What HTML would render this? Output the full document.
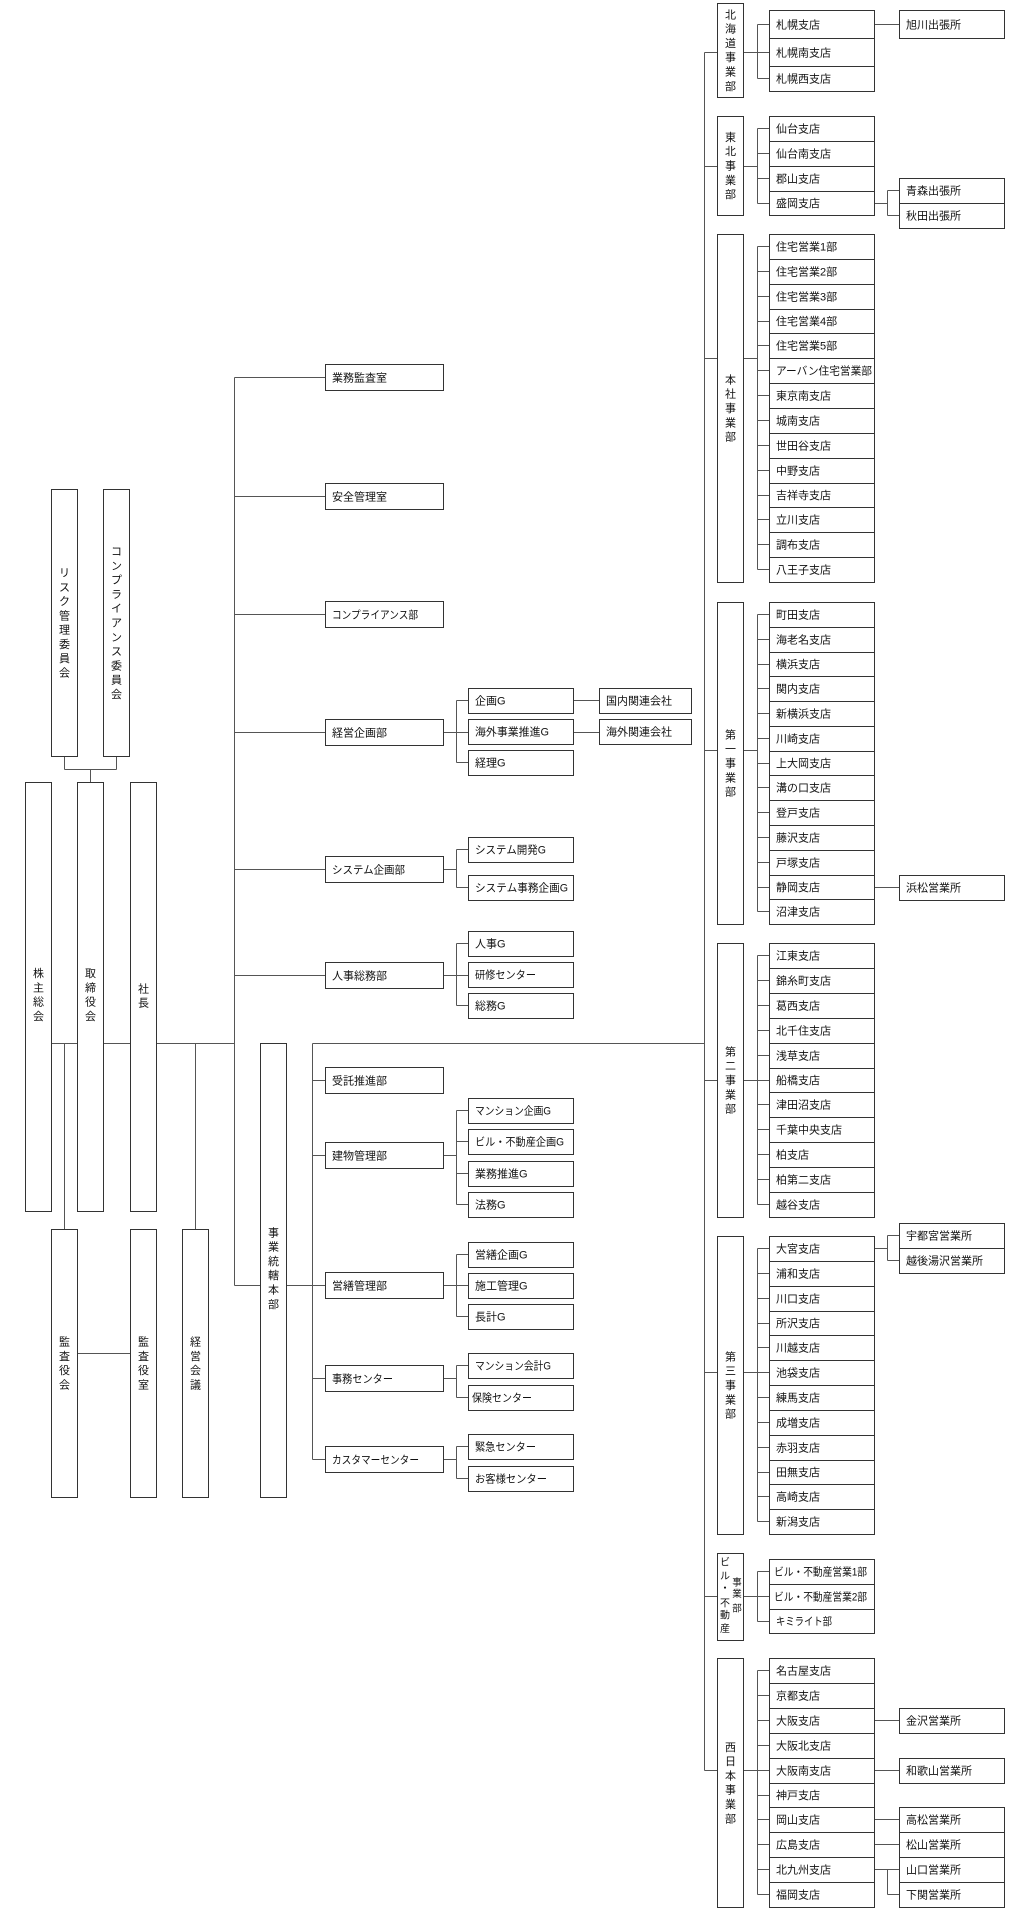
<!DOCTYPE html>
<html><head><meta charset="utf-8">
<style>
html,body{margin:0;padding:0;background:#fff;}
svg{display:block;}
text{font-family:"Liberation Sans","Noto Sans CJK JP",sans-serif;font-size:11px;fill:#111;}
.v{text-anchor:middle;}
.s{font-size:10px;}
.ss{font-size:9.5px;}
.ln line{stroke:#555;stroke-width:1;}
.bx rect{fill:#fff;stroke:#333;stroke-width:1;}
</style></head>
<body>
<svg width="1023" height="1910" viewBox="0 0 1023 1910" shape-rendering="crispEdges">
<g class="ln">
<!-- top-left committees connector -->
<line x1="64.5" y1="756" x2="64.5" y2="769.5"/>
<line x1="116.5" y1="756" x2="116.5" y2="769.5"/>
<line x1="64.5" y1="769.5" x2="116.5" y2="769.5"/>
<line x1="90.5" y1="769.5" x2="90.5" y2="782"/>
<!-- main horizontal -->
<line x1="51" y1="1043.5" x2="234.5" y2="1043.5"/>
<line x1="64.5" y1="1043.5" x2="64.5" y2="1229"/>
<line x1="195.5" y1="1043.5" x2="195.5" y2="1229"/>
<line x1="78" y1="1353.5" x2="130" y2="1353.5"/>
<!-- trunk middle -->
<line x1="234.5" y1="377.5" x2="234.5" y2="1285.5"/>
<line x1="234.5" y1="377.5" x2="325" y2="377.5"/>
<line x1="234.5" y1="496.5" x2="325" y2="496.5"/>
<line x1="234.5" y1="614.5" x2="325" y2="614.5"/>
<line x1="234.5" y1="732.5" x2="325" y2="732.5"/>
<line x1="234.5" y1="869.5" x2="325" y2="869.5"/>
<line x1="234.5" y1="975.5" x2="325" y2="975.5"/>
<line x1="234.5" y1="1285.5" x2="260" y2="1285.5"/>
<line x1="286" y1="1285.5" x2="325" y2="1285.5"/>
<!-- 事業統轄本部 subtree -->
<line x1="312.5" y1="1043.5" x2="312.5" y2="1459.5"/>
<line x1="312.5" y1="1043.5" x2="704.5" y2="1043.5"/>
<line x1="312.5" y1="1080.5" x2="325" y2="1080.5"/>
<line x1="312.5" y1="1155.5" x2="325" y2="1155.5"/>
<line x1="312.5" y1="1378.5" x2="325" y2="1378.5"/>
<line x1="312.5" y1="1459.5" x2="325" y2="1459.5"/>
<!-- 経営企画部 -->
<line x1="443" y1="732.5" x2="468" y2="732.5"/>
<line x1="456.5" y1="700.5" x2="456.5" y2="762.5"/>
<line x1="456.5" y1="700.5" x2="468" y2="700.5"/>
<line x1="456.5" y1="762.5" x2="468" y2="762.5"/>
<line x1="573" y1="700.5" x2="599" y2="700.5"/>
<line x1="573" y1="732.5" x2="599" y2="732.5"/>
<!-- システム企画部 -->
<line x1="443" y1="869.5" x2="456.5" y2="869.5"/>
<line x1="456.5" y1="849.5" x2="456.5" y2="887.5"/>
<line x1="456.5" y1="849.5" x2="468" y2="849.5"/>
<line x1="456.5" y1="887.5" x2="468" y2="887.5"/>
<!-- 人事総務部 -->
<line x1="443" y1="975.5" x2="468" y2="975.5"/>
<line x1="456.5" y1="943.5" x2="456.5" y2="1005.5"/>
<line x1="456.5" y1="943.5" x2="468" y2="943.5"/>
<line x1="456.5" y1="1005.5" x2="468" y2="1005.5"/>
<!-- 建物管理部 -->
<line x1="443" y1="1155.5" x2="456.5" y2="1155.5"/>
<line x1="456.5" y1="1110.5" x2="456.5" y2="1204.5"/>
<line x1="456.5" y1="1110.5" x2="468" y2="1110.5"/>
<line x1="456.5" y1="1141.5" x2="468" y2="1141.5"/>
<line x1="456.5" y1="1173.5" x2="468" y2="1173.5"/>
<line x1="456.5" y1="1204.5" x2="468" y2="1204.5"/>
<!-- 営繕管理部 -->
<line x1="443" y1="1285.5" x2="468" y2="1285.5"/>
<line x1="456.5" y1="1254.5" x2="456.5" y2="1316.5"/>
<line x1="456.5" y1="1254.5" x2="468" y2="1254.5"/>
<line x1="456.5" y1="1316.5" x2="468" y2="1316.5"/>
<!-- 事務センター -->
<line x1="443" y1="1378.5" x2="456.5" y2="1378.5"/>
<line x1="456.5" y1="1365.5" x2="456.5" y2="1397.5"/>
<line x1="456.5" y1="1365.5" x2="468" y2="1365.5"/>
<line x1="456.5" y1="1397.5" x2="468" y2="1397.5"/>
<!-- カスタマーセンター -->
<line x1="443" y1="1459.5" x2="456.5" y2="1459.5"/>
<line x1="456.5" y1="1446.5" x2="456.5" y2="1478.5"/>
<line x1="456.5" y1="1446.5" x2="468" y2="1446.5"/>
<line x1="456.5" y1="1478.5" x2="468" y2="1478.5"/>

<!-- right trunk -->
<line x1="704.5" y1="52.5" x2="704.5" y2="1770.5"/>
<line x1="704.5" y1="52.5" x2="717" y2="52.5"/>
<line x1="704.5" y1="166.5" x2="717" y2="166.5"/>
<line x1="704.5" y1="358.5" x2="717" y2="358.5"/>
<line x1="704.5" y1="750.5" x2="717" y2="750.5"/>
<line x1="704.5" y1="1080.5" x2="717" y2="1080.5"/>
<line x1="704.5" y1="1372.5" x2="717" y2="1372.5"/>
<line x1="704.5" y1="1596.5" x2="717" y2="1596.5"/>
<line x1="704.5" y1="1770.5" x2="717" y2="1770.5"/>

<!-- 北海道 -->
<line x1="743" y1="52.5" x2="769" y2="52.5"/>
<line x1="757.5" y1="24.5" x2="757.5" y2="78.5"/>
<line x1="757.5" y1="24.5" x2="769" y2="24.5"/>
<line x1="757.5" y1="78.5" x2="769" y2="78.5"/>
<line x1="874" y1="24.5" x2="899" y2="24.5"/>
<!-- 東北 -->
<line x1="743" y1="166.5" x2="757.5" y2="166.5"/>
<line x1="757.5" y1="128.5" x2="757.5" y2="203.5"/>
<line x1="757.5" y1="128.5" x2="769" y2="128.5"/>
<line x1="757.5" y1="153.5" x2="769" y2="153.5"/>
<line x1="757.5" y1="178.5" x2="769" y2="178.5"/>
<line x1="757.5" y1="203.5" x2="769" y2="203.5"/>
<line x1="874" y1="203.5" x2="887.5" y2="203.5"/>
<line x1="887.5" y1="190.5" x2="887.5" y2="215.5"/>
<line x1="887.5" y1="190.5" x2="899" y2="190.5"/>
<line x1="887.5" y1="215.5" x2="899" y2="215.5"/>
<!-- 本社 -->
<line x1="743" y1="358.5" x2="757.5" y2="358.5"/>
<line x1="757.5" y1="246.5" x2="757.5" y2="569.5"/>
<line x1="757.5" y1="246.5" x2="769" y2="246.5"/>
<line x1="757.5" y1="271.5" x2="769" y2="271.5"/>
<line x1="757.5" y1="296.5" x2="769" y2="296.5"/>
<line x1="757.5" y1="321.5" x2="769" y2="321.5"/>
<line x1="757.5" y1="345.5" x2="769" y2="345.5"/>
<line x1="757.5" y1="370.5" x2="769" y2="370.5"/>
<line x1="757.5" y1="395.5" x2="769" y2="395.5"/>
<line x1="757.5" y1="420.5" x2="769" y2="420.5"/>
<line x1="757.5" y1="445.5" x2="769" y2="445.5"/>
<line x1="757.5" y1="470.5" x2="769" y2="470.5"/>
<line x1="757.5" y1="495.5" x2="769" y2="495.5"/>
<line x1="757.5" y1="519.5" x2="769" y2="519.5"/>
<line x1="757.5" y1="544.5" x2="769" y2="544.5"/>
<line x1="757.5" y1="569.5" x2="769" y2="569.5"/>
<!-- 第一 -->
<line x1="743" y1="750.5" x2="757.5" y2="750.5"/>
<line x1="757.5" y1="614.5" x2="757.5" y2="911.5"/>
<line x1="757.5" y1="614.5" x2="769" y2="614.5"/>
<line x1="757.5" y1="639.5" x2="769" y2="639.5"/>
<line x1="757.5" y1="664.5" x2="769" y2="664.5"/>
<line x1="757.5" y1="688.5" x2="769" y2="688.5"/>
<line x1="757.5" y1="713.5" x2="769" y2="713.5"/>
<line x1="757.5" y1="738.5" x2="769" y2="738.5"/>
<line x1="757.5" y1="763.5" x2="769" y2="763.5"/>
<line x1="757.5" y1="787.5" x2="769" y2="787.5"/>
<line x1="757.5" y1="812.5" x2="769" y2="812.5"/>
<line x1="757.5" y1="837.5" x2="769" y2="837.5"/>
<line x1="757.5" y1="862.5" x2="769" y2="862.5"/>
<line x1="757.5" y1="887.5" x2="769" y2="887.5"/>
<line x1="757.5" y1="911.5" x2="769" y2="911.5"/>
<line x1="874" y1="887.5" x2="899" y2="887.5"/>
<!-- 第二 -->
<line x1="743" y1="1080.5" x2="757.5" y2="1080.5"/>
<line x1="757.5" y1="955.5" x2="757.5" y2="1204.5"/>
<line x1="757.5" y1="955.5" x2="769" y2="955.5"/>
<line x1="757.5" y1="980.5" x2="769" y2="980.5"/>
<line x1="757.5" y1="1005.5" x2="769" y2="1005.5"/>
<line x1="757.5" y1="1030.5" x2="769" y2="1030.5"/>
<line x1="757.5" y1="1055.5" x2="769" y2="1055.5"/>
<line x1="757.5" y1="1080.5" x2="769" y2="1080.5"/>
<line x1="757.5" y1="1104.5" x2="769" y2="1104.5"/>
<line x1="757.5" y1="1129.5" x2="769" y2="1129.5"/>
<line x1="757.5" y1="1154.5" x2="769" y2="1154.5"/>
<line x1="757.5" y1="1179.5" x2="769" y2="1179.5"/>
<line x1="757.5" y1="1204.5" x2="769" y2="1204.5"/>
<!-- 第三 -->
<line x1="743" y1="1372.5" x2="757.5" y2="1372.5"/>
<line x1="757.5" y1="1248.5" x2="757.5" y2="1521.5"/>
<line x1="757.5" y1="1248.5" x2="769" y2="1248.5"/>
<line x1="757.5" y1="1273.5" x2="769" y2="1273.5"/>
<line x1="757.5" y1="1298.5" x2="769" y2="1298.5"/>
<line x1="757.5" y1="1323.5" x2="769" y2="1323.5"/>
<line x1="757.5" y1="1347.5" x2="769" y2="1347.5"/>
<line x1="757.5" y1="1372.5" x2="769" y2="1372.5"/>
<line x1="757.5" y1="1397.5" x2="769" y2="1397.5"/>
<line x1="757.5" y1="1422.5" x2="769" y2="1422.5"/>
<line x1="757.5" y1="1447.5" x2="769" y2="1447.5"/>
<line x1="757.5" y1="1472.5" x2="769" y2="1472.5"/>
<line x1="757.5" y1="1496.5" x2="769" y2="1496.5"/>
<line x1="757.5" y1="1521.5" x2="769" y2="1521.5"/>
<line x1="874" y1="1248.5" x2="887.5" y2="1248.5"/>
<line x1="887.5" y1="1235.5" x2="887.5" y2="1260.5"/>
<line x1="887.5" y1="1235.5" x2="899" y2="1235.5"/>
<line x1="887.5" y1="1260.5" x2="899" y2="1260.5"/>
<!-- ビル・不動産 -->
<line x1="743" y1="1596.5" x2="757.5" y2="1596.5"/>
<line x1="757.5" y1="1571.5" x2="757.5" y2="1621.5"/>
<line x1="757.5" y1="1571.5" x2="769" y2="1571.5"/>
<line x1="757.5" y1="1596.5" x2="769" y2="1596.5"/>
<line x1="757.5" y1="1621.5" x2="769" y2="1621.5"/>
<!-- 西日本 -->
<line x1="743" y1="1770.5" x2="757.5" y2="1770.5"/>
<line x1="757.5" y1="1670.5" x2="757.5" y2="1894.5"/>
<line x1="757.5" y1="1670.5" x2="769" y2="1670.5"/>
<line x1="757.5" y1="1695.5" x2="769" y2="1695.5"/>
<line x1="757.5" y1="1720.5" x2="769" y2="1720.5"/>
<line x1="757.5" y1="1745.5" x2="769" y2="1745.5"/>
<line x1="757.5" y1="1770.5" x2="769" y2="1770.5"/>
<line x1="757.5" y1="1795.5" x2="769" y2="1795.5"/>
<line x1="757.5" y1="1819.5" x2="769" y2="1819.5"/>
<line x1="757.5" y1="1844.5" x2="769" y2="1844.5"/>
<line x1="757.5" y1="1869.5" x2="769" y2="1869.5"/>
<line x1="757.5" y1="1894.5" x2="769" y2="1894.5"/>
<line x1="874" y1="1720.5" x2="899" y2="1720.5"/>
<line x1="874" y1="1770.5" x2="899" y2="1770.5"/>
<line x1="874" y1="1819.5" x2="899" y2="1819.5"/>
<line x1="874" y1="1844.5" x2="899" y2="1844.5"/>
<line x1="874" y1="1869.5" x2="899" y2="1869.5"/>
<line x1="887.5" y1="1869.5" x2="887.5" y2="1894.5"/>
<line x1="887.5" y1="1894.5" x2="899" y2="1894.5"/>
</g>

<g class="bx">
<!-- left column -->
<rect x="51.5" y="489.5" width="26" height="267"/>
<rect x="103.5" y="489.5" width="26" height="267"/>
<rect x="25.5" y="782.5" width="26" height="429"/>
<rect x="77.5" y="782.5" width="26" height="429"/>
<rect x="130.5" y="782.5" width="26" height="429"/>
<rect x="51.5" y="1229.5" width="26" height="268"/>
<rect x="130.5" y="1229.5" width="26" height="268"/>
<rect x="182.5" y="1229.5" width="26" height="268"/>
<rect x="260.5" y="1043.5" width="26" height="454"/>
<!-- middle -->
<rect x="325.5" y="364.5" width="118" height="26"/>
<rect x="325.5" y="483.5" width="118" height="26"/>
<rect x="325.5" y="601.5" width="118" height="26"/>
<rect x="325.5" y="719.5" width="118" height="26"/>
<rect x="325.5" y="856.5" width="118" height="26"/>
<rect x="325.5" y="962.5" width="118" height="26"/>
<rect x="468.5" y="688.5" width="105" height="25"/>
<rect x="468.5" y="719.5" width="105" height="25"/>
<rect x="468.5" y="750.5" width="105" height="25"/>
<rect x="599.5" y="688.5" width="92" height="25"/>
<rect x="599.5" y="719.5" width="92" height="25"/>
<rect x="468.5" y="837.5" width="105" height="25"/>
<rect x="468.5" y="875.5" width="105" height="25"/>
<rect x="468.5" y="931.5" width="105" height="25"/>
<rect x="468.5" y="962.5" width="105" height="25"/>
<rect x="468.5" y="993.5" width="105" height="25"/>
<rect x="325.5" y="1067.5" width="118" height="26"/>
<rect x="325.5" y="1142.5" width="118" height="26"/>
<rect x="325.5" y="1272.5" width="118" height="26"/>
<rect x="325.5" y="1365.5" width="118" height="26"/>
<rect x="325.5" y="1446.5" width="118" height="26"/>
<rect x="468.5" y="1098.5" width="105" height="25"/>
<rect x="468.5" y="1129.5" width="105" height="25"/>
<rect x="468.5" y="1161.5" width="105" height="25"/>
<rect x="468.5" y="1192.5" width="105" height="25"/>
<rect x="468.5" y="1242.5" width="105" height="25"/>
<rect x="468.5" y="1273.5" width="105" height="25"/>
<rect x="468.5" y="1304.5" width="105" height="25"/>
<rect x="468.5" y="1353.5" width="105" height="25"/>
<rect x="468.5" y="1385.5" width="105" height="25"/>
<rect x="468.5" y="1434.5" width="105" height="25"/>
<rect x="468.5" y="1466.5" width="105" height="25"/>
<!-- division boxes -->
<rect x="717.5" y="3.5" width="26" height="94"/>
<rect x="717.5" y="116.5" width="26" height="99"/>
<rect x="717.5" y="234.5" width="26" height="348"/>
<rect x="717.5" y="602.5" width="26" height="322"/>
<rect x="717.5" y="943.5" width="26" height="274"/>
<rect x="717.5" y="1236.5" width="26" height="298"/>
<rect x="717.5" y="1553.5" width="26" height="87"/>
<rect x="717.5" y="1658.5" width="26" height="249"/>
<!-- 北海道 branches -->
<rect x="769.5" y="10.5" width="105" height="28"/>
<rect x="769.5" y="38.5" width="105" height="28"/>
<rect x="769.5" y="66.5" width="105" height="25"/>
<rect x="899.5" y="10.5" width="105" height="28"/>
<!-- 東北 -->
<rect x="769.5" y="116.5" width="105" height="25"/>
<rect x="769.5" y="141.5" width="105" height="25"/>
<rect x="769.5" y="166.5" width="105" height="25"/>
<rect x="769.5" y="191.5" width="105" height="24"/>
<rect x="899.5" y="178.5" width="105" height="25"/>
<rect x="899.5" y="203.5" width="105" height="25"/>
<!-- 本社 -->
<rect x="769.5" y="234.5" width="105" height="25"/>
<rect x="769.5" y="259.5" width="105" height="25"/>
<rect x="769.5" y="284.5" width="105" height="25"/>
<rect x="769.5" y="309.5" width="105" height="24"/>
<rect x="769.5" y="333.5" width="105" height="25"/>
<rect x="769.5" y="358.5" width="105" height="25"/>
<rect x="769.5" y="383.5" width="105" height="25"/>
<rect x="769.5" y="408.5" width="105" height="25"/>
<rect x="769.5" y="433.5" width="105" height="25"/>
<rect x="769.5" y="458.5" width="105" height="25"/>
<rect x="769.5" y="483.5" width="105" height="24"/>
<rect x="769.5" y="507.5" width="105" height="25"/>
<rect x="769.5" y="532.5" width="105" height="25"/>
<rect x="769.5" y="557.5" width="105" height="25"/>
<!-- 第一 -->
<rect x="769.5" y="602.5" width="105" height="25"/>
<rect x="769.5" y="627.5" width="105" height="25"/>
<rect x="769.5" y="652.5" width="105" height="24"/>
<rect x="769.5" y="676.5" width="105" height="25"/>
<rect x="769.5" y="701.5" width="105" height="25"/>
<rect x="769.5" y="726.5" width="105" height="25"/>
<rect x="769.5" y="751.5" width="105" height="24"/>
<rect x="769.5" y="775.5" width="105" height="25"/>
<rect x="769.5" y="800.5" width="105" height="25"/>
<rect x="769.5" y="825.5" width="105" height="25"/>
<rect x="769.5" y="850.5" width="105" height="25"/>
<rect x="769.5" y="875.5" width="105" height="24"/>
<rect x="769.5" y="899.5" width="105" height="25"/>
<rect x="899.5" y="875.5" width="105" height="25"/>
<!-- 第二 -->
<rect x="769.5" y="943.5" width="105" height="25"/>
<rect x="769.5" y="968.5" width="105" height="25"/>
<rect x="769.5" y="993.5" width="105" height="25"/>
<rect x="769.5" y="1018.5" width="105" height="25"/>
<rect x="769.5" y="1043.5" width="105" height="25"/>
<rect x="769.5" y="1068.5" width="105" height="24"/>
<rect x="769.5" y="1092.5" width="105" height="25"/>
<rect x="769.5" y="1117.5" width="105" height="25"/>
<rect x="769.5" y="1142.5" width="105" height="25"/>
<rect x="769.5" y="1167.5" width="105" height="25"/>
<rect x="769.5" y="1192.5" width="105" height="25"/>
<!-- 第三 -->
<rect x="769.5" y="1236.5" width="105" height="25"/>
<rect x="769.5" y="1261.5" width="105" height="25"/>
<rect x="769.5" y="1286.5" width="105" height="25"/>
<rect x="769.5" y="1311.5" width="105" height="24"/>
<rect x="769.5" y="1335.5" width="105" height="25"/>
<rect x="769.5" y="1360.5" width="105" height="25"/>
<rect x="769.5" y="1385.5" width="105" height="25"/>
<rect x="769.5" y="1410.5" width="105" height="25"/>
<rect x="769.5" y="1435.5" width="105" height="25"/>
<rect x="769.5" y="1460.5" width="105" height="24"/>
<rect x="769.5" y="1484.5" width="105" height="25"/>
<rect x="769.5" y="1509.5" width="105" height="25"/>
<rect x="899.5" y="1223.5" width="105" height="25"/>
<rect x="899.5" y="1248.5" width="105" height="25"/>
<!-- ビル・不動産 -->
<rect x="769.5" y="1559.5" width="105" height="25"/>
<rect x="769.5" y="1584.5" width="105" height="25"/>
<rect x="769.5" y="1609.5" width="105" height="24"/>
<!-- 西日本 -->
<rect x="769.5" y="1658.5" width="105" height="25"/>
<rect x="769.5" y="1683.5" width="105" height="25"/>
<rect x="769.5" y="1708.5" width="105" height="25"/>
<rect x="769.5" y="1733.5" width="105" height="25"/>
<rect x="769.5" y="1758.5" width="105" height="25"/>
<rect x="769.5" y="1783.5" width="105" height="24"/>
<rect x="769.5" y="1807.5" width="105" height="25"/>
<rect x="769.5" y="1832.5" width="105" height="25"/>
<rect x="769.5" y="1857.5" width="105" height="25"/>
<rect x="769.5" y="1882.5" width="105" height="25"/>
<rect x="899.5" y="1708.5" width="105" height="25"/>
<rect x="899.5" y="1758.5" width="105" height="25"/>
<rect x="899.5" y="1807.5" width="105" height="25"/>
<rect x="899.5" y="1832.5" width="105" height="25"/>
<rect x="899.5" y="1857.5" width="105" height="25"/>
<rect x="899.5" y="1882.5" width="105" height="25"/>
</g>

<g>
<!-- vertical texts left -->
<text class="v" x="64.5" y="576.5">リ</text><text class="v" x="64.5" y="590.8">ス</text><text class="v" x="64.5" y="605.1">ク</text><text class="v" x="64.5" y="619.4">管</text><text class="v" x="64.5" y="633.6">理</text><text class="v" x="64.5" y="647.9">委</text><text class="v" x="64.5" y="662.2">員</text><text class="v" x="64.5" y="676.5">会</text>
<text class="v" x="116.5" y="555">コ</text><text class="v" x="116.5" y="569.3">ン</text><text class="v" x="116.5" y="583.6">プ</text><text class="v" x="116.5" y="597.9">ラ</text><text class="v" x="116.5" y="612.2">イ</text><text class="v" x="116.5" y="626.5">ア</text><text class="v" x="116.5" y="640.8">ン</text><text class="v" x="116.5" y="655.1">ス</text><text class="v" x="116.5" y="669.4">委</text><text class="v" x="116.5" y="683.7">員</text><text class="v" x="116.5" y="698">会</text>
<text class="v" x="38.5" y="977">株</text><text class="v" x="38.5" y="991.3">主</text><text class="v" x="38.5" y="1005.6">総</text><text class="v" x="38.5" y="1020">会</text>
<text class="v" x="90.5" y="977">取</text><text class="v" x="90.5" y="991.3">締</text><text class="v" x="90.5" y="1005.6">役</text><text class="v" x="90.5" y="1020">会</text>
<text class="v" x="143.5" y="992.5">社</text><text class="v" x="143.5" y="1006.5">長</text>
<text class="v" x="64.5" y="1345.5">監</text><text class="v" x="64.5" y="1359.8">査</text><text class="v" x="64.5" y="1374.1">役</text><text class="v" x="64.5" y="1388.4">会</text>
<text class="v" x="143.5" y="1345.5">監</text><text class="v" x="143.5" y="1359.8">査</text><text class="v" x="143.5" y="1374.1">役</text><text class="v" x="143.5" y="1388.4">室</text>
<text class="v" x="195.5" y="1345.5">経</text><text class="v" x="195.5" y="1359.8">営</text><text class="v" x="195.5" y="1374.1">会</text><text class="v" x="195.5" y="1388.4">議</text>
<text class="v" x="273.5" y="1236.3">事</text><text class="v" x="273.5" y="1250.6">業</text><text class="v" x="273.5" y="1264.9">統</text><text class="v" x="273.5" y="1279.2">轄</text><text class="v" x="273.5" y="1293.5">本</text><text class="v" x="273.5" y="1307.8">部</text>

<!-- middle labels -->
<text x="332" y="381.5">業務監査室</text>
<text x="332" y="500.5">安全管理室</text>
<text x="332" y="618.5" textLength="86" lengthAdjust="spacingAndGlyphs">コンプライアンス部</text>
<text x="332" y="736.5">経営企画部</text>
<text x="332" y="873.5" textLength="73" lengthAdjust="spacingAndGlyphs">システム企画部</text>
<text x="332" y="979.5">人事総務部</text>
<text x="475" y="704.5">企画G</text>
<text x="475" y="735.5" textLength="74" lengthAdjust="spacingAndGlyphs">海外事業推進G</text>
<text x="475" y="766.5">経理G</text>
<text x="606" y="704.5">国内関連会社</text>
<text x="606" y="735.5">海外関連会社</text>
<text x="475" y="853.5" textLength="71" lengthAdjust="spacingAndGlyphs">システム開発G</text>
<text x="475" y="891.5" textLength="93" lengthAdjust="spacingAndGlyphs">システム事務企画G</text>
<text x="475" y="947.5">人事G</text>
<text x="475" y="978.5" textLength="61" lengthAdjust="spacingAndGlyphs">研修センター</text>
<text x="475" y="1009.5">総務G</text>
<text x="332" y="1084.5">受託推進部</text>
<text x="332" y="1159.5">建物管理部</text>
<text x="332" y="1289.5">営繕管理部</text>
<text x="332" y="1382.5" textLength="61" lengthAdjust="spacingAndGlyphs">事務センター</text>
<text x="332" y="1463.5" textLength="87" lengthAdjust="spacingAndGlyphs">カスタマーセンター</text>
<text x="475" y="1114.5" textLength="76" lengthAdjust="spacingAndGlyphs">マンション企画G</text>
<text x="475" y="1145.5" textLength="89" lengthAdjust="spacingAndGlyphs">ビル・不動産企画G</text>
<text x="475" y="1177.5">業務推進G</text>
<text x="475" y="1208.5">法務G</text>
<text x="475" y="1258.5">営繕企画G</text>
<text x="475" y="1289.5">施工管理G</text>
<text x="475" y="1320.5">長計G</text>
<text x="475" y="1369.5" textLength="76" lengthAdjust="spacingAndGlyphs">マンション会計G</text>
<text x="472" y="1401.5" textLength="60" lengthAdjust="spacingAndGlyphs">保険センター</text>
<text x="475" y="1450.5" textLength="61" lengthAdjust="spacingAndGlyphs">緊急センター</text>
<text x="475" y="1482.5" textLength="72" lengthAdjust="spacingAndGlyphs">お客様センター</text>

<!-- division vertical texts -->
<text class="v" x="730.5" y="18.3">北</text><text class="v" x="730.5" y="32.6">海</text><text class="v" x="730.5" y="46.9">道</text><text class="v" x="730.5" y="61.2">事</text><text class="v" x="730.5" y="75.5">業</text><text class="v" x="730.5" y="89.8">部</text>
<text class="v" x="730.5" y="140.9">東</text><text class="v" x="730.5" y="155.2">北</text><text class="v" x="730.5" y="169.5">事</text><text class="v" x="730.5" y="183.8">業</text><text class="v" x="730.5" y="198.1">部</text>
<text class="v" x="730.5" y="383.4">本</text><text class="v" x="730.5" y="397.7">社</text><text class="v" x="730.5" y="412">事</text><text class="v" x="730.5" y="426.3">業</text><text class="v" x="730.5" y="440.6">部</text>
<text class="v" x="730.5" y="738.4">第</text><text class="v" x="730.5" y="752.7">一</text><text class="v" x="730.5" y="767">事</text><text class="v" x="730.5" y="781.3">業</text><text class="v" x="730.5" y="795.6">部</text>
<text class="v" x="730.5" y="1055.4">第</text><text class="v" x="730.5" y="1069.7">二</text><text class="v" x="730.5" y="1084">事</text><text class="v" x="730.5" y="1098.3">業</text><text class="v" x="730.5" y="1112.6">部</text>
<text class="v" x="730.5" y="1360.4">第</text><text class="v" x="730.5" y="1374.7">三</text><text class="v" x="730.5" y="1389">事</text><text class="v" x="730.5" y="1403.3">業</text><text class="v" x="730.5" y="1417.6">部</text>
<text class="v s" x="725" y="1565.5">ビ</text><text class="v s" x="725" y="1579.5">ル</text><text class="v s" x="725" y="1591.5">・</text><text class="v s" x="725" y="1606.5">不</text><text class="v s" x="725" y="1618.5">動</text><text class="v s" x="725" y="1632">産</text>
<text class="v ss" x="737" y="1585.5">事</text><text class="v ss" x="737" y="1597">業</text><text class="v ss" x="737" y="1611.5">部</text>
<text class="v" x="730.5" y="1750.8">西</text><text class="v" x="730.5" y="1765.1">日</text><text class="v" x="730.5" y="1779.4">本</text><text class="v" x="730.5" y="1793.7">事</text><text class="v" x="730.5" y="1808">業</text><text class="v" x="730.5" y="1822.3">部</text>

<!-- 北海道 -->
<text x="776" y="28.5">札幌支店</text>
<text x="776" y="56.5">札幌南支店</text>
<text x="776" y="82.5">札幌西支店</text>
<text x="906" y="28.5">旭川出張所</text>
<!-- 東北 -->
<text x="776" y="132.5">仙台支店</text>
<text x="776" y="157.5">仙台南支店</text>
<text x="776" y="182.5">郡山支店</text>
<text x="776" y="207">盛岡支店</text>
<text x="906" y="194.5">青森出張所</text>
<text x="906" y="219.5">秋田出張所</text>
<!-- 本社 -->
<text x="776" y="250.5">住宅営業1部</text>
<text x="776" y="275.5">住宅営業2部</text>
<text x="776" y="300.5">住宅営業3部</text>
<text x="776" y="325">住宅営業4部</text>
<text x="776" y="349.5">住宅営業5部</text>
<text x="776" y="374.5" textLength="96" lengthAdjust="spacingAndGlyphs">アーバン住宅営業部</text>
<text x="776" y="399.5">東京南支店</text>
<text x="776" y="424.5">城南支店</text>
<text x="776" y="449.5">世田谷支店</text>
<text x="776" y="474.5">中野支店</text>
<text x="776" y="499">吉祥寺支店</text>
<text x="776" y="523.5">立川支店</text>
<text x="776" y="548.5">調布支店</text>
<text x="776" y="573.5">八王子支店</text>
<!-- 第一 -->
<text x="776" y="618.5">町田支店</text>
<text x="776" y="643.5">海老名支店</text>
<text x="776" y="668">横浜支店</text>
<text x="776" y="692.5">関内支店</text>
<text x="776" y="717.5">新横浜支店</text>
<text x="776" y="742.5">川崎支店</text>
<text x="776" y="767">上大岡支店</text>
<text x="776" y="791.5">溝の口支店</text>
<text x="776" y="816.5">登戸支店</text>
<text x="776" y="841.5">藤沢支店</text>
<text x="776" y="866.5">戸塚支店</text>
<text x="776" y="891">静岡支店</text>
<text x="776" y="915.5">沼津支店</text>
<text x="906" y="891.5">浜松営業所</text>
<!-- 第二 -->
<text x="776" y="959.5">江東支店</text>
<text x="776" y="984.5">錦糸町支店</text>
<text x="776" y="1009.5">葛西支店</text>
<text x="776" y="1034.5">北千住支店</text>
<text x="776" y="1059.5">浅草支店</text>
<text x="776" y="1084">船橋支店</text>
<text x="776" y="1108.5">津田沼支店</text>
<text x="776" y="1133.5">千葉中央支店</text>
<text x="776" y="1158.5">柏支店</text>
<text x="776" y="1183.5">柏第二支店</text>
<text x="776" y="1208.5">越谷支店</text>
<!-- 第三 -->
<text x="776" y="1252.5">大宮支店</text>
<text x="776" y="1277.5">浦和支店</text>
<text x="776" y="1302.5">川口支店</text>
<text x="776" y="1327">所沢支店</text>
<text x="776" y="1351.5">川越支店</text>
<text x="776" y="1376.5">池袋支店</text>
<text x="776" y="1401.5">練馬支店</text>
<text x="776" y="1426.5">成増支店</text>
<text x="776" y="1451.5">赤羽支店</text>
<text x="776" y="1476">田無支店</text>
<text x="776" y="1500.5">高崎支店</text>
<text x="776" y="1525.5">新潟支店</text>
<text x="906" y="1239.5">宇都宮営業所</text>
<text x="906" y="1264.5">越後湯沢営業所</text>
<!-- ビル・不動産 -->
<text x="774" y="1575.5" textLength="93" lengthAdjust="spacingAndGlyphs">ビル・不動産営業1部</text>
<text x="774" y="1600.5" textLength="93" lengthAdjust="spacingAndGlyphs">ビル・不動産営業2部</text>
<text x="776" y="1625" textLength="56" lengthAdjust="spacingAndGlyphs">キミライト部</text>
<!-- 西日本 -->
<text x="776" y="1674.5">名古屋支店</text>
<text x="776" y="1699.5">京都支店</text>
<text x="776" y="1724.5">大阪支店</text>
<text x="776" y="1749.5">大阪北支店</text>
<text x="776" y="1774.5">大阪南支店</text>
<text x="776" y="1799">神戸支店</text>
<text x="776" y="1823.5">岡山支店</text>
<text x="776" y="1848.5">広島支店</text>
<text x="776" y="1873.5">北九州支店</text>
<text x="776" y="1898.5">福岡支店</text>
<text x="906" y="1724.5">金沢営業所</text>
<text x="906" y="1774.5">和歌山営業所</text>
<text x="906" y="1823.5">高松営業所</text>
<text x="906" y="1848.5">松山営業所</text>
<text x="906" y="1873.5">山口営業所</text>
<text x="906" y="1898.5">下関営業所</text>
</g>
</svg>
</body></html>
